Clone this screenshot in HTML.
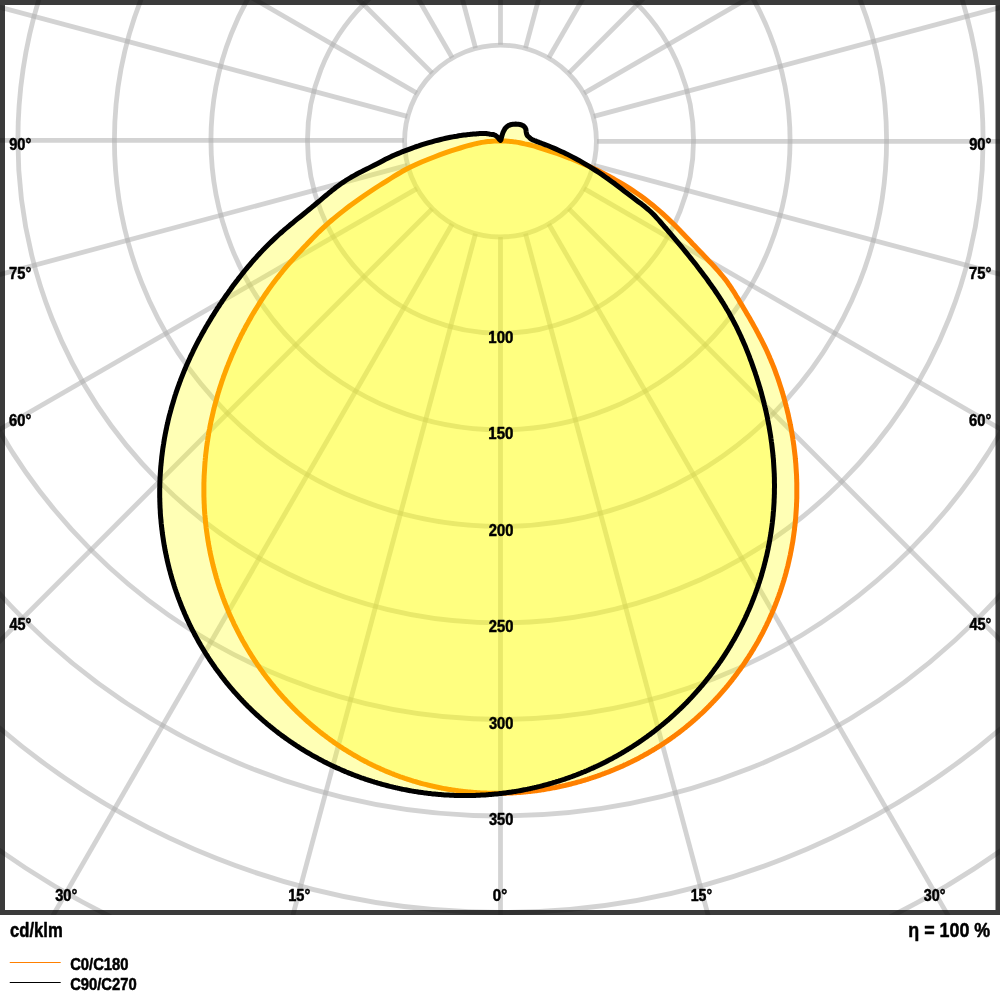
<!DOCTYPE html><html><head><meta charset="utf-8"><style>html,body{margin:0;padding:0;background:#fff}svg{display:block;will-change:transform}text{font-family:"Liberation Sans",Arial,sans-serif;font-weight:bold;fill:#000;stroke:#000;stroke-width:0.5px;stroke-linejoin:round}</style></head><body>
<svg width="1000" height="1000" viewBox="0 0 1000 1000">
<rect width="1000" height="1000" fill="#fff"/>
<defs><clipPath id="c"><rect x="0" y="0" width="1000" height="915"/></clipPath></defs>
<g clip-path="url(#c)">
<circle cx="500.5" cy="141.06" r="95.92" fill="none" stroke="#aeaeae" stroke-opacity="0.55" stroke-width="4.8"/>
<circle cx="500.5" cy="140.36" r="193.04" fill="none" stroke="#aeaeae" stroke-opacity="0.55" stroke-width="4.8"/>
<circle cx="500.5" cy="140.36" r="289.56" fill="none" stroke="#aeaeae" stroke-opacity="0.55" stroke-width="4.8"/>
<circle cx="500.5" cy="140.36" r="386.08" fill="none" stroke="#aeaeae" stroke-opacity="0.55" stroke-width="4.8"/>
<circle cx="500.5" cy="140.36" r="482.60" fill="none" stroke="#aeaeae" stroke-opacity="0.55" stroke-width="4.8"/>
<circle cx="500.5" cy="140.36" r="579.12" fill="none" stroke="#aeaeae" stroke-opacity="0.55" stroke-width="4.8"/>
<circle cx="500.5" cy="140.36" r="675.64" fill="none" stroke="#aeaeae" stroke-opacity="0.55" stroke-width="4.8"/>
<circle cx="500.5" cy="140.36" r="772.16" fill="none" stroke="#aeaeae" stroke-opacity="0.55" stroke-width="4.8"/>
<circle cx="500.5" cy="140.36" r="868.68" fill="none" stroke="#aeaeae" stroke-opacity="0.55" stroke-width="4.8"/>
<line x1="500.50" y1="44.84" x2="500.50" y2="-1358.64" fill="none" stroke="#aeaeae" stroke-opacity="0.55" stroke-width="4.8"/>
<line x1="475.52" y1="48.13" x2="112.27" y2="-1307.53" fill="none" stroke="#aeaeae" stroke-opacity="0.55" stroke-width="4.8"/>
<line x1="452.24" y1="57.77" x2="-249.50" y2="-1157.68" fill="none" stroke="#aeaeae" stroke-opacity="0.55" stroke-width="4.8"/>
<line x1="432.25" y1="73.11" x2="-560.16" y2="-919.30" fill="none" stroke="#aeaeae" stroke-opacity="0.55" stroke-width="4.8"/>
<line x1="416.91" y1="93.10" x2="-798.54" y2="-608.64" fill="none" stroke="#aeaeae" stroke-opacity="0.55" stroke-width="4.8"/>
<line x1="407.27" y1="116.38" x2="-948.39" y2="-246.87" fill="none" stroke="#aeaeae" stroke-opacity="0.55" stroke-width="4.8"/>
<line x1="403.98" y1="140.36" x2="-999.50" y2="140.36" fill="none" stroke="#aeaeae" stroke-opacity="0.55" stroke-width="4.8"/>
<line x1="407.27" y1="165.34" x2="-948.39" y2="528.59" fill="none" stroke="#aeaeae" stroke-opacity="0.55" stroke-width="4.8"/>
<line x1="416.91" y1="188.62" x2="-798.54" y2="890.36" fill="none" stroke="#aeaeae" stroke-opacity="0.55" stroke-width="4.8"/>
<line x1="432.25" y1="208.61" x2="-560.16" y2="1201.02" fill="none" stroke="#aeaeae" stroke-opacity="0.55" stroke-width="4.8"/>
<line x1="452.24" y1="223.95" x2="-249.50" y2="1439.40" fill="none" stroke="#aeaeae" stroke-opacity="0.55" stroke-width="4.8"/>
<line x1="475.52" y1="233.59" x2="112.27" y2="1589.25" fill="none" stroke="#aeaeae" stroke-opacity="0.55" stroke-width="4.8"/>
<line x1="500.50" y1="236.88" x2="500.50" y2="1640.36" fill="none" stroke="#aeaeae" stroke-opacity="0.55" stroke-width="4.8"/>
<line x1="525.48" y1="233.59" x2="888.73" y2="1589.25" fill="none" stroke="#aeaeae" stroke-opacity="0.55" stroke-width="4.8"/>
<line x1="548.76" y1="223.95" x2="1250.50" y2="1439.40" fill="none" stroke="#aeaeae" stroke-opacity="0.55" stroke-width="4.8"/>
<line x1="568.75" y1="208.61" x2="1561.16" y2="1201.02" fill="none" stroke="#aeaeae" stroke-opacity="0.55" stroke-width="4.8"/>
<line x1="584.09" y1="188.62" x2="1799.54" y2="890.36" fill="none" stroke="#aeaeae" stroke-opacity="0.55" stroke-width="4.8"/>
<line x1="593.73" y1="165.34" x2="1949.39" y2="528.59" fill="none" stroke="#aeaeae" stroke-opacity="0.55" stroke-width="4.8"/>
<line x1="597.02" y1="141.31" x2="2000.50" y2="141.31" fill="none" stroke="#aeaeae" stroke-opacity="0.55" stroke-width="4.8"/>
<line x1="593.73" y1="116.38" x2="1949.39" y2="-246.87" fill="none" stroke="#aeaeae" stroke-opacity="0.55" stroke-width="4.8"/>
<line x1="584.09" y1="93.10" x2="1799.54" y2="-608.64" fill="none" stroke="#aeaeae" stroke-opacity="0.55" stroke-width="4.8"/>
<line x1="568.75" y1="73.11" x2="1561.16" y2="-919.30" fill="none" stroke="#aeaeae" stroke-opacity="0.55" stroke-width="4.8"/>
<line x1="548.76" y1="57.77" x2="1250.50" y2="-1157.68" fill="none" stroke="#aeaeae" stroke-opacity="0.55" stroke-width="4.8"/>
<line x1="525.48" y1="48.13" x2="888.73" y2="-1307.53" fill="none" stroke="#aeaeae" stroke-opacity="0.55" stroke-width="4.8"/>
<path d="M531.3,145.3 534.6,146.2 538.0,147.3 542.0,148.6 546.7,150.1 552.0,151.8 557.7,153.7 563.6,155.9 570.0,158.3 576.5,161.0 583.3,163.9 590.3,167.0 596.9,170.1 603.1,173.2 608.9,176.3 614.4,179.3 619.4,182.2 624.1,185.0 628.5,187.7 632.6,190.4 636.5,193.0 640.2,195.5 643.6,198.0 646.8,200.5 649.9,202.9 652.8,205.2 655.6,207.6 658.3,209.9 660.9,212.1 663.4,214.4 665.8,216.6 668.2,218.9 670.5,221.1 672.8,223.3 675.1,225.6 677.3,227.8 679.5,230.0 681.6,232.2 683.8,234.5 685.9,236.7 688.1,239.0 690.3,241.3 692.5,243.7 694.8,246.1 697.1,248.5 699.5,251.0 702.0,253.6 704.5,256.2 706.9,258.8 709.4,261.4 711.9,264.0 714.2,266.5 716.5,269.1 718.8,271.6 720.9,274.1 722.9,276.5 724.8,278.8 726.5,281.1 728.1,283.3 729.6,285.5 731.1,287.6 732.4,289.7 733.7,291.7 735.0,293.8 736.2,295.8 737.5,297.8 738.7,299.8 739.9,301.9 741.1,303.9 742.4,306.0 743.6,308.1 744.9,310.2 746.1,312.3 747.3,314.4 748.6,316.5 749.8,318.6 751.0,320.7 752.2,322.8 753.4,324.9 754.6,327.1 755.8,329.2 756.9,331.3 758.0,333.4 759.1,335.5 760.2,337.6 761.3,339.7 762.4,341.8 763.4,343.8 764.4,345.9 765.4,347.9 766.4,350.0 767.3,352.0 768.2,354.0 769.1,356.0 769.9,358.0 770.8,360.0 771.6,362.0 772.4,363.9 773.2,365.9 774.0,367.8 774.7,369.7 775.4,371.7 776.1,373.6 776.8,375.5 777.5,377.4 778.2,379.3 778.8,381.2 779.4,383.0 780.0,384.9 780.6,386.8 781.2,388.6 781.8,390.5 782.3,392.3 782.9,394.2 783.4,396.0 783.9,397.8 784.4,399.6 784.9,401.4 785.4,403.3 785.9,405.1 786.3,406.9 786.8,408.7 787.2,410.4 787.6,412.2 788.1,414.0 788.5,415.8 788.8,417.6 789.2,419.3 789.6,421.1 790.0,422.8 790.3,424.6 790.7,426.3 791.0,428.1 791.3,429.8 791.6,431.5 791.9,433.3 792.2,435.0 792.5,436.7 792.8,438.4 793.0,440.1 793.3,441.8 793.5,443.5 793.8,445.2 794.0,446.9 794.2,448.6 794.4,450.3 794.6,451.9 794.8,453.6 795.0,455.3 795.2,456.9 795.3,458.6 795.5,460.2 795.6,461.9 795.8,463.5 795.9,465.1 796.0,466.8 796.1,468.4 796.2,470.0 796.3,471.6 796.4,473.2 796.5,474.8 796.6,476.4 796.6,478.0 796.7,479.6 796.7,481.2 796.8,482.8 796.8,484.3 796.8,485.9 796.8,487.5 796.8,489.0 796.8,490.6 796.8,492.1 796.8,493.7 796.8,495.2 796.8,496.8 796.8,498.3 796.7,499.8 796.7,501.3 796.6,502.9 796.5,504.4 796.5,505.9 796.4,507.4 796.3,508.9 796.2,510.4 796.1,511.9 796.0,513.3 795.9,514.8 795.8,516.3 795.7,517.8 795.6,519.2 795.4,520.7 795.3,522.2 795.1,523.6 795.0,525.1 794.8,526.5 794.6,527.9 794.5,529.4 794.3,530.8 794.1,532.2 793.9,533.6 793.7,535.1 793.5,536.5 793.3,537.9 793.1,539.3 792.9,540.7 792.7,542.1 792.4,543.5 792.2,544.8 791.9,546.2 791.7,547.6 791.4,549.0 791.2,550.3 790.9,551.7 790.6,553.1 790.4,554.4 790.1,555.8 789.8,557.1 789.5,558.4 789.2,559.8 788.9,561.1 788.6,562.4 788.3,563.8 788.0,565.1 787.7,566.4 787.3,567.7 787.0,569.0 786.7,570.3 786.3,571.6 786.0,572.9 785.6,574.2 785.3,575.5 784.9,576.8 784.5,578.0 784.2,579.3 783.8,580.6 783.4,581.8 783.0,583.1 782.6,584.3 782.2,585.6 781.8,586.8 781.4,588.1 781.0,589.3 780.6,590.5 780.2,591.8 779.8,593.0 779.3,594.2 778.9,595.4 778.5,596.6 778.0,597.8 777.6,599.0 777.1,600.2 776.7,601.4 776.2,602.6 775.8,603.8 775.3,605.0 774.8,606.2 774.4,607.3 773.9,608.5 773.4,609.7 772.9,610.8 772.4,612.0 771.9,613.2 771.4,614.3 770.9,615.4 770.4,616.6 769.9,617.7 769.4,618.8 768.9,620.0 768.4,621.1 767.8,622.2 767.3,623.3 766.8,624.4 766.3,625.5 765.7,626.7 765.2,627.7 764.6,628.8 764.1,629.9 763.5,631.0 763.0,632.1 762.4,633.2 761.8,634.3 761.3,635.3 760.7,636.4 760.1,637.4 759.5,638.5 759.0,639.6 758.4,640.6 757.8,641.7 757.2,642.7 756.6,643.7 756.0,644.8 755.4,645.8 754.8,646.8 754.2,647.8 753.6,648.9 753.0,649.9 752.3,650.9 751.7,651.9 751.1,652.9 750.5,653.9 749.8,654.9 749.2,655.9 748.6,656.9 747.9,657.9 747.3,658.8 746.6,659.8 746.0,660.8 745.3,661.8 744.7,662.7 744.0,663.7 743.4,664.7 742.7,665.6 742.0,666.6 741.3,667.5 740.7,668.5 740.0,669.5 739.3,670.4 738.6,671.3 737.9,672.3 737.2,673.2 736.5,674.2 735.8,675.1 735.1,676.0 734.4,677.0 733.7,677.9 733.0,678.8 732.3,679.7 731.6,680.7 730.8,681.6 730.1,682.5 729.4,683.4 728.6,684.3 727.9,685.2 727.2,686.1 726.4,687.0 725.7,687.9 724.9,688.8 724.2,689.7 723.4,690.6 722.6,691.4 721.9,692.3 721.1,693.2 720.3,694.1 719.6,694.9 718.8,695.8 718.0,696.7 717.2,697.5 716.4,698.4 715.6,699.3 714.8,700.1 714.0,701.0 713.2,701.8 712.4,702.6 711.6,703.5 710.8,704.3 710.0,705.1 709.2,706.0 708.4,706.8 707.6,707.6 706.7,708.4 705.9,709.2 705.1,710.1 704.2,710.9 703.4,711.7 702.6,712.5 701.7,713.3 700.9,714.1 700.0,714.8 699.2,715.6 698.3,716.4 697.5,717.2 696.6,718.0 695.7,718.7 694.9,719.5 694.0,720.3 693.1,721.0 692.3,721.8 691.4,722.5 690.5,723.3 689.6,724.0 688.7,724.8 687.8,725.5 687.0,726.2 686.1,727.0 685.2,727.7 684.3,728.4 683.4,729.1 682.5,729.8 681.5,730.6 680.6,731.3 679.7,732.0 678.8,732.7 677.9,733.4 677.0,734.0 676.0,734.7 675.1,735.4 674.2,736.1 673.2,736.8 672.3,737.4 671.4,738.1 670.4,738.8 669.5,739.4 668.5,740.1 667.6,740.7 666.6,741.4 665.7,742.0 664.7,742.6 663.8,743.3 662.8,743.9 661.9,744.5 660.9,745.2 659.9,745.8 659.0,746.4 658.0,747.0 657.0,747.6 656.0,748.2 655.1,748.8 654.1,749.4 653.1,750.0 652.1,750.6 651.1,751.2 650.1,751.8 649.2,752.3 648.2,752.9 647.2,753.5 646.2,754.0 645.2,754.6 644.2,755.1 643.2,755.7 642.2,756.2 641.2,756.8 640.1,757.3 639.1,757.9 638.1,758.4 637.1,758.9 636.1,759.4 635.1,760.0 634.0,760.5 633.0,761.0 632.0,761.5 631.0,762.0 629.9,762.5 628.9,763.0 627.9,763.5 626.9,764.0 625.8,764.5 624.8,764.9 623.7,765.4 622.7,765.9 621.7,766.4 620.6,766.8 619.6,767.3 618.5,767.7 617.5,768.2 616.4,768.6 615.4,769.1 614.3,769.5 613.3,770.0 612.2,770.4 611.1,770.8 610.1,771.3 609.0,771.7 608.0,772.1 606.9,772.5 605.8,772.9 604.8,773.3 603.7,773.7 602.6,774.1 601.5,774.5 600.5,774.9 599.4,775.3 598.3,775.7 597.2,776.1 596.2,776.4 595.1,776.8 594.0,777.2 592.9,777.5 591.8,777.9 590.8,778.2 589.7,778.6 588.6,778.9 587.5,779.3 586.4,779.6 585.3,780.0 584.2,780.3 583.1,780.6 582.0,780.9 580.9,781.3 579.8,781.6 578.7,781.9 577.6,782.2 576.5,782.5 575.4,782.8 574.3,783.1 573.2,783.4 572.1,783.7 571.0,784.0 569.9,784.2 568.8,784.5 567.7,784.8 566.6,785.0 565.5,785.3 564.4,785.6 563.3,785.8 562.1,786.1 561.0,786.3 559.9,786.5 558.8,786.8 557.7,787.0 556.6,787.2 555.4,787.5 554.3,787.7 553.2,787.9 552.1,788.1 551.0,788.3 549.8,788.5 548.7,788.7 547.6,788.9 546.5,789.1 545.4,789.3 544.2,789.5 543.1,789.7 542.0,789.8 540.8,790.0 539.7,790.2 538.6,790.3 537.5,790.5 536.3,790.7 535.2,790.8 534.1,790.9 532.9,791.1 531.8,791.2 530.7,791.4 529.5,791.5 528.4,791.6 527.3,791.7 526.1,791.8 525.0,792.0 523.9,792.1 522.7,792.2 521.6,792.3 520.5,792.4 519.3,792.4 518.2,792.5 517.1,792.6 515.9,792.7 514.8,792.8 513.6,792.8 512.5,792.9 511.4,792.9 510.2,793.0 509.1,793.0 507.9,793.1 506.8,793.1 505.7,793.2 504.5,793.2 503.4,793.2 502.3,793.3 501.1,793.3 500.0,793.3 498.8,793.3 497.7,793.3 496.6,793.3 495.4,793.3 494.3,793.3 493.1,793.3 492.0,793.3 490.9,793.2 489.7,793.2 488.6,793.2 487.4,793.2 486.3,793.1 485.2,793.1 484.0,793.0 482.9,793.0 481.7,792.9 480.6,792.9 479.5,792.8 478.3,792.7 477.2,792.7 476.1,792.6 474.9,792.5 473.8,792.4 472.6,792.3 471.5,792.2 470.4,792.1 469.2,792.0 468.1,791.9 467.0,791.8 465.8,791.7 464.7,791.6 463.6,791.4 462.4,791.3 461.3,791.2 460.2,791.0 459.0,790.9 457.9,790.7 456.8,790.6 455.7,790.4 454.5,790.2 453.4,790.1 452.3,789.9 451.1,789.7 450.0,789.5 448.9,789.4 447.8,789.2 446.6,789.0 445.5,788.8 444.4,788.6 443.3,788.4 442.2,788.2 441.0,787.9 439.9,787.7 438.8,787.5 437.7,787.3 436.6,787.0 435.4,786.8 434.3,786.5 433.2,786.3 432.1,786.0 431.0,785.8 429.9,785.5 428.8,785.3 427.7,785.0 426.6,784.7 425.4,784.4 424.3,784.1 423.2,783.9 422.1,783.6 421.0,783.3 419.9,783.0 418.8,782.7 417.7,782.3 416.6,782.0 415.5,781.7 414.4,781.4 413.3,781.1 412.3,780.7 411.2,780.4 410.1,780.0 409.0,779.7 407.9,779.3 406.8,779.0 405.7,778.6 404.6,778.3 403.6,777.9 402.5,777.5 401.4,777.1 400.3,776.8 399.2,776.4 398.2,776.0 397.1,775.6 396.0,775.2 394.9,774.8 393.9,774.4 392.8,773.9 391.7,773.5 390.7,773.1 389.6,772.7 388.6,772.2 387.5,771.8 386.4,771.4 385.4,770.9 384.3,770.5 383.3,770.0 382.2,769.5 381.2,769.1 380.1,768.6 379.1,768.1 378.0,767.7 377.0,767.2 376.0,766.7 374.9,766.2 373.9,765.7 372.8,765.2 371.8,764.7 370.8,764.2 369.8,763.7 368.7,763.2 367.7,762.7 366.7,762.1 365.7,761.6 364.6,761.1 363.6,760.5 362.6,760.0 361.6,759.4 360.6,758.9 359.6,758.3 358.6,757.8 357.6,757.2 356.6,756.6 355.6,756.1 354.6,755.5 353.6,754.9 352.6,754.3 351.6,753.7 350.6,753.1 349.6,752.5 348.6,751.9 347.6,751.3 346.7,750.7 345.7,750.1 344.7,749.5 343.7,748.9 342.8,748.3 341.8,747.6 340.8,747.0 339.9,746.4 338.9,745.7 337.9,745.1 337.0,744.4 336.0,743.8 335.1,743.1 334.1,742.5 333.2,741.8 332.2,741.1 331.3,740.4 330.4,739.8 329.4,739.1 328.5,738.4 327.6,737.7 326.6,737.0 325.7,736.3 324.8,735.6 323.9,734.9 322.9,734.2 322.0,733.5 321.1,732.8 320.2,732.1 319.3,731.4 318.4,730.6 317.5,729.9 316.6,729.2 315.7,728.4 314.8,727.7 313.9,727.0 313.0,726.2 312.1,725.5 311.2,724.7 310.4,723.9 309.5,723.2 308.6,722.4 307.7,721.7 306.9,720.9 306.0,720.1 305.1,719.3 304.3,718.5 303.4,717.8 302.6,717.0 301.7,716.2 300.9,715.4 300.0,714.6 299.2,713.8 298.3,713.0 297.5,712.2 296.7,711.4 295.8,710.5 295.0,709.7 294.2,708.9 293.3,708.1 292.5,707.2 291.7,706.4 290.9,705.6 290.1,704.7 289.3,703.9 288.5,703.1 287.7,702.2 286.9,701.4 286.1,700.5 285.3,699.6 284.5,698.8 283.7,697.9 282.9,697.1 282.2,696.2 281.4,695.3 280.6,694.4 279.8,693.6 279.1,692.7 278.3,691.8 277.5,690.9 276.8,690.0 276.0,689.1 275.3,688.2 274.5,687.3 273.8,686.4 273.1,685.5 272.3,684.6 271.6,683.7 270.9,682.8 270.1,681.9 269.4,680.9 268.7,680.0 268.0,679.1 267.3,678.2 266.5,677.2 265.8,676.3 265.1,675.4 264.4,674.4 263.7,673.5 263.0,672.5 262.4,671.6 261.7,670.6 261.0,669.7 260.3,668.7 259.6,667.8 259.0,666.8 258.3,665.8 257.6,664.9 257.0,663.9 256.3,662.9 255.7,661.9 255.0,661.0 254.4,660.0 253.7,659.0 253.1,658.0 252.4,657.0 251.8,656.0 251.2,655.0 250.6,654.0 249.9,653.0 249.3,652.0 248.7,651.0 248.1,650.0 247.5,649.0 246.9,648.0 246.3,646.9 245.7,645.9 245.1,644.9 244.5,643.9 243.9,642.8 243.3,641.8 242.7,640.7 242.1,639.7 241.6,638.6 241.0,637.6 240.4,636.5 239.8,635.4 239.3,634.4 238.7,633.3 238.2,632.2 237.6,631.1 237.1,630.0 236.5,629.0 236.0,627.9 235.4,626.8 234.9,625.7 234.3,624.6 233.8,623.5 233.3,622.3 232.8,621.2 232.3,620.1 231.7,619.0 231.2,617.9 230.7,616.7 230.2,615.6 229.7,614.5 229.2,613.3 228.7,612.2 228.2,611.0 227.8,609.9 227.3,608.7 226.8,607.5 226.3,606.4 225.9,605.2 225.4,604.0 224.9,602.9 224.5,601.7 224.0,600.5 223.6,599.3 223.1,598.1 222.7,596.9 222.3,595.7 221.8,594.5 221.4,593.3 221.0,592.1 220.6,590.9 220.1,589.6 219.7,588.4 219.3,587.2 218.9,585.9 218.5,584.7 218.1,583.5 217.7,582.2 217.4,581.0 217.0,579.7 216.6,578.5 216.2,577.2 215.9,575.9 215.5,574.6 215.2,573.4 214.8,572.1 214.5,570.8 214.1,569.5 213.8,568.2 213.5,566.9 213.1,565.6 212.8,564.3 212.5,563.0 212.2,561.7 211.9,560.4 211.6,559.1 211.3,557.7 211.0,556.4 210.7,555.1 210.4,553.7 210.1,552.4 209.9,551.1 209.6,549.7 209.4,548.4 209.1,547.0 208.8,545.6 208.6,544.3 208.4,542.9 208.1,541.5 207.9,540.1 207.7,538.7 207.5,537.4 207.3,536.0 207.1,534.6 206.9,533.2 206.7,531.8 206.5,530.3 206.3,528.9 206.1,527.5 206.0,526.1 205.8,524.7 205.6,523.2 205.5,521.8 205.4,520.3 205.2,518.9 205.1,517.4 205.0,516.0 204.8,514.5 204.7,513.1 204.6,511.6 204.5,510.1 204.4,508.6 204.3,507.2 204.3,505.7 204.2,504.2 204.1,502.7 204.1,501.2 204.0,499.7 204.0,498.2 203.9,496.7 203.9,495.1 203.9,493.6 203.9,492.1 203.9,490.5 203.9,489.0 203.9,487.5 203.9,485.9 203.9,484.4 203.9,482.8 204.0,481.2 204.0,479.7 204.1,478.1 204.1,476.5 204.2,475.0 204.3,473.4 204.4,471.8 204.5,470.2 204.6,468.6 204.7,467.0 204.8,465.4 204.9,463.8 205.0,462.1 205.2,460.5 205.3,458.9 205.5,457.2 205.6,455.6 205.8,454.0 206.0,452.3 206.2,450.7 206.4,449.0 206.6,447.3 206.8,445.7 207.1,444.0 207.3,442.3 207.6,440.6 207.8,439.0 208.1,437.3 208.4,435.6 208.6,433.9 208.9,432.2 209.2,430.5 209.6,428.7 209.9,427.0 210.2,425.3 210.6,423.6 210.9,421.8 211.3,420.1 211.7,418.3 212.1,416.6 212.5,414.8 212.9,413.1 213.3,411.3 213.7,409.5 214.2,407.7 214.6,406.0 215.1,404.2 215.6,402.4 216.1,400.6 216.6,398.8 217.1,397.0 217.6,395.2 218.1,393.3 218.7,391.5 219.2,389.7 219.8,387.9 220.4,386.0 221.0,384.2 221.6,382.3 222.2,380.5 222.9,378.6 223.5,376.7 224.2,374.9 224.9,373.0 225.6,371.1 226.3,369.2 227.0,367.3 227.8,365.4 228.5,363.5 229.3,361.6 230.1,359.7 230.9,357.8 231.7,355.8 232.5,353.9 233.4,352.0 234.2,350.0 235.1,348.1 236.0,346.1 236.9,344.1 237.8,342.2 238.8,340.2 239.8,338.2 240.7,336.2 241.7,334.2 242.8,332.2 243.8,330.2 244.9,328.2 245.9,326.2 247.0,324.2 248.2,322.2 249.3,320.1 250.5,318.1 251.6,316.0 252.8,314.0 254.1,311.9 255.3,309.8 256.6,307.8 257.9,305.7 259.2,303.6 260.5,301.5 261.9,299.4 263.3,297.3 264.7,295.2 266.2,293.0 267.7,290.9 269.2,288.7 270.7,286.6 272.3,284.4 273.9,282.2 275.6,280.0 277.3,277.8 279.1,275.6 280.9,273.3 282.8,271.0 284.7,268.7 286.6,266.4 288.6,264.1 290.7,261.8 292.8,259.5 294.9,257.1 297.0,254.8 299.1,252.5 301.3,250.2 303.5,247.8 305.7,245.6 307.8,243.3 310.0,241.0 312.1,238.8 314.3,236.6 316.5,234.3 318.7,232.1 321.0,229.9 323.4,227.6 325.9,225.3 328.6,222.9 331.4,220.5 334.3,218.1 337.3,215.6 340.4,213.1 343.6,210.6 346.9,208.1 350.2,205.5 353.7,203.0 357.2,200.5 360.7,198.0 364.3,195.5 368.0,193.0 371.7,190.5 375.5,188.0 379.4,185.5 383.2,183.1 386.9,180.8 390.6,178.5 394.3,176.2 397.9,174.0 401.6,171.8 405.7,169.5 410.6,167.1 416.0,164.6 421.6,162.0 427.8,159.5 434.2,157.0 440.2,154.7 445.8,152.7 450.9,150.9 455.8,149.4 460.3,148.0 464.5,146.7 468.1,145.7 470.8,145.0 473.0,144.4 474.9,143.9 476.7,143.5 478.3,143.1 480.0,142.8 481.9,142.4 484.0,142.1 486.0,141.8 487.9,141.6 489.8,141.4 492.0,141.2 494.7,141.1 497.6,140.9 500.5,140.9 503.1,140.9 505.5,141.0 508.0,141.2 510.7,141.4 513.5,141.8 516.0,142.1 518.0,142.4 519.8,142.8 522.0,143.3 524.8,143.9 528.0,144.5Z" fill="#ffff00" fill-opacity="0.29" stroke="#ff8000" stroke-width="5" stroke-linejoin="round"/>
<path d="M500.5,140.4 500.9,139.8 501.2,138.7 501.5,137.5 501.8,136.4 502.1,135.2 502.5,134.0 502.9,132.8 503.4,131.6 504.0,130.5 504.6,129.4 505.2,128.4 506.0,127.5 506.9,126.7 507.9,125.9 509.0,125.3 510.3,124.8 511.6,124.5 513.0,124.3 514.3,124.2 515.7,124.1 517.0,124.2 518.4,124.3 519.7,124.5 521.0,124.8 522.1,125.2 523.1,125.7 524.0,126.3 524.7,127.1 525.3,128.0 525.8,129.0 526.0,130.1 526.1,131.3 526.3,132.5 526.5,133.6 526.8,134.6 527.3,135.5 528.1,136.4 529.0,137.1 529.8,137.8 530.2,138.2 530.4,138.5 530.8,138.8 531.3,139.1 531.9,139.4 532.6,139.8 533.4,140.1 534.3,140.5 535.4,140.9 536.5,141.4 537.7,141.8 539.1,142.4 540.5,142.9 542.1,143.5 543.8,144.1 545.6,144.8 547.5,145.5 549.4,146.3 551.6,147.2 553.8,148.1 556.1,149.1 558.5,150.2 561.1,151.4 563.7,152.6 566.5,153.9 569.4,155.4 572.3,156.9 575.4,158.5 578.6,160.2 581.9,162.1 585.3,164.1 588.8,166.2 592.3,168.4 595.7,170.5 599.1,172.7 602.4,174.9 605.6,177.2 608.8,179.4 611.9,181.7 615.0,183.9 618.0,186.2 621.0,188.5 624.1,190.9 627.2,193.3 630.5,195.8 634.1,198.5 637.9,201.4 641.6,204.1 645.0,206.8 648.2,209.5 651.0,212.0 653.3,214.2 655.3,216.3 657.1,218.4 659.0,220.4 660.8,222.5 662.6,224.6 664.4,226.7 666.3,228.8 668.1,231.0 670.0,233.2 671.9,235.4 673.8,237.6 675.7,239.8 677.6,242.1 679.5,244.4 681.4,246.7 683.3,249.0 685.2,251.3 687.1,253.6 689.0,256.0 690.9,258.4 692.8,260.8 694.7,263.1 696.6,265.6 698.4,268.0 700.3,270.4 702.1,272.8 703.9,275.2 705.7,277.6 707.5,280.0 709.2,282.5 711.0,284.9 712.6,287.3 714.3,289.6 715.9,292.0 717.5,294.4 719.0,296.7 720.6,299.1 722.0,301.4 723.5,303.7 724.9,306.0 726.2,308.3 727.6,310.5 728.9,312.7 730.1,315.0 731.3,317.2 732.5,319.3 733.6,321.5 734.8,323.7 735.9,325.8 736.9,327.9 737.9,330.0 738.9,332.1 739.9,334.2 740.9,336.3 741.8,338.4 742.7,340.4 743.6,342.5 744.5,344.5 745.4,346.6 746.2,348.6 747.0,350.6 747.8,352.6 748.6,354.6 749.4,356.7 750.1,358.7 750.9,360.7 751.6,362.6 752.3,364.6 753.0,366.6 753.7,368.6 754.4,370.6 755.1,372.5 755.7,374.5 756.4,376.5 757.0,378.4 757.6,380.4 758.2,382.3 758.8,384.3 759.4,386.2 760.0,388.1 760.5,390.1 761.1,392.0 761.6,393.9 762.1,395.8 762.6,397.7 763.1,399.6 763.6,401.5 764.1,403.4 764.5,405.3 765.0,407.2 765.4,409.0 765.9,410.9 766.3,412.8 766.7,414.6 767.1,416.5 767.5,418.3 767.8,420.2 768.2,422.0 768.5,423.8 768.9,425.7 769.2,427.5 769.5,429.3 769.8,431.1 770.1,432.9 770.4,434.7 770.7,436.5 770.9,438.3 771.2,440.1 771.4,441.8 771.7,443.6 771.9,445.4 772.1,447.1 772.3,448.9 772.5,450.6 772.7,452.4 772.9,454.1 773.0,455.8 773.2,457.5 773.4,459.3 773.5,461.0 773.6,462.7 773.7,464.4 773.8,466.0 773.9,467.7 774.0,469.4 774.1,471.1 774.2,472.8 774.3,474.4 774.3,476.1 774.4,477.7 774.4,479.4 774.4,481.0 774.4,482.6 774.5,484.2 774.5,485.9 774.5,487.5 774.4,489.1 774.4,490.7 774.4,492.3 774.4,493.9 774.3,495.5 774.3,497.0 774.2,498.6 774.1,500.2 774.1,501.7 774.0,503.3 773.9,504.9 773.8,506.4 773.7,507.9 773.6,509.5 773.5,511.0 773.3,512.5 773.2,514.0 773.1,515.6 772.9,517.1 772.8,518.6 772.6,520.1 772.4,521.6 772.3,523.0 772.1,524.5 771.9,526.0 771.7,527.5 771.5,528.9 771.3,530.4 771.1,531.9 770.9,533.3 770.6,534.8 770.4,536.2 770.2,537.6 769.9,539.1 769.7,540.5 769.4,541.9 769.2,543.3 768.9,544.7 768.6,546.2 768.3,547.6 768.1,548.9 767.8,550.3 767.5,551.7 767.2,553.1 766.9,554.5 766.6,555.9 766.2,557.2 765.9,558.6 765.6,559.9 765.3,561.3 764.9,562.6 764.6,564.0 764.2,565.3 763.9,566.7 763.5,568.0 763.2,569.3 762.8,570.6 762.4,572.0 762.0,573.3 761.7,574.6 761.3,575.9 760.9,577.2 760.5,578.5 760.1,579.8 759.7,581.0 759.3,582.3 758.8,583.6 758.4,584.9 758.0,586.1 757.6,587.4 757.1,588.6 756.7,589.9 756.2,591.1 755.8,592.4 755.3,593.6 754.9,594.9 754.4,596.1 754.0,597.3 753.5,598.5 753.0,599.8 752.5,601.0 752.0,602.2 751.6,603.4 751.1,604.6 750.6,605.8 750.1,607.0 749.6,608.1 749.1,609.3 748.6,610.5 748.0,611.7 747.5,612.8 747.0,614.0 746.5,615.2 745.9,616.3 745.4,617.5 744.9,618.6 744.3,619.8 743.8,620.9 743.2,622.0 742.7,623.2 742.1,624.3 741.6,625.4 741.0,626.5 740.4,627.7 739.9,628.8 739.3,629.9 738.7,631.0 738.1,632.1 737.5,633.2 736.9,634.3 736.4,635.3 735.8,636.4 735.2,637.5 734.6,638.6 734.0,639.6 733.3,640.7 732.7,641.8 732.1,642.8 731.5,643.9 730.9,644.9 730.3,646.0 729.6,647.0 729.0,648.0 728.4,649.1 727.7,650.1 727.1,651.1 726.4,652.2 725.8,653.2 725.1,654.2 724.5,655.2 723.8,656.2 723.2,657.2 722.5,658.2 721.8,659.2 721.2,660.2 720.5,661.2 719.8,662.1 719.1,663.1 718.5,664.1 717.8,665.1 717.1,666.0 716.4,667.0 715.7,667.9 715.0,668.9 714.3,669.8 713.6,670.8 712.9,671.7 712.2,672.7 711.5,673.6 710.8,674.5 710.1,675.5 709.4,676.4 708.7,677.3 707.9,678.2 707.2,679.1 706.5,680.0 705.7,681.0 705.0,681.9 704.3,682.8 703.5,683.7 702.8,684.6 702.0,685.5 701.3,686.3 700.5,687.2 699.8,688.1 699.0,689.0 698.2,689.9 697.5,690.8 696.7,691.6 695.9,692.5 695.1,693.4 694.4,694.2 693.6,695.1 692.8,695.9 692.0,696.8 691.2,697.7 690.4,698.5 689.6,699.3 688.8,700.2 688.0,701.0 687.2,701.9 686.4,702.7 685.6,703.5 684.7,704.3 683.9,705.2 683.1,706.0 682.3,706.8 681.4,707.6 680.6,708.4 679.8,709.2 678.9,710.0 678.1,710.8 677.2,711.6 676.4,712.4 675.5,713.2 674.7,714.0 673.8,714.8 673.0,715.6 672.1,716.3 671.2,717.1 670.4,717.9 669.5,718.7 668.6,719.4 667.8,720.2 666.9,720.9 666.0,721.7 665.1,722.4 664.2,723.2 663.3,723.9 662.4,724.7 661.5,725.4 660.6,726.1 659.7,726.9 658.8,727.6 657.9,728.3 657.0,729.0 656.1,729.7 655.2,730.5 654.3,731.2 653.4,731.9 652.4,732.6 651.5,733.3 650.6,734.0 649.7,734.7 648.7,735.3 647.8,736.0 646.9,736.7 645.9,737.4 645.0,738.0 644.0,738.7 643.1,739.4 642.2,740.0 641.2,740.7 640.3,741.4 639.3,742.0 638.3,742.7 637.4,743.3 636.4,743.9 635.5,744.6 634.5,745.2 633.5,745.8 632.5,746.5 631.6,747.1 630.6,747.7 629.6,748.3 628.6,748.9 627.7,749.5 626.7,750.1 625.7,750.7 624.7,751.3 623.7,751.9 622.7,752.5 621.7,753.1 620.7,753.7 619.7,754.2 618.7,754.8 617.7,755.4 616.7,756.0 615.7,756.5 614.7,757.1 613.7,757.6 612.7,758.2 611.7,758.7 610.6,759.3 609.6,759.8 608.6,760.3 607.6,760.9 606.5,761.4 605.5,761.9 604.5,762.4 603.5,763.0 602.4,763.5 601.4,764.0 600.4,764.5 599.3,765.0 598.3,765.5 597.2,766.0 596.2,766.5 595.2,766.9 594.1,767.4 593.1,767.9 592.0,768.4 591.0,768.8 589.9,769.3 588.9,769.8 587.8,770.2 586.7,770.7 585.7,771.1 584.6,771.6 583.6,772.0 582.5,772.4 581.4,772.9 580.4,773.3 579.3,773.7 578.2,774.2 577.1,774.6 576.1,775.0 575.0,775.4 573.9,775.8 572.8,776.2 571.8,776.6 570.7,777.0 569.6,777.4 568.5,777.8 567.4,778.2 566.3,778.5 565.3,778.9 564.2,779.3 563.1,779.6 562.0,780.0 560.9,780.4 559.8,780.7 558.7,781.1 557.6,781.4 556.5,781.7 555.4,782.1 554.3,782.4 553.2,782.7 552.1,783.1 551.0,783.4 549.9,783.7 548.8,784.0 547.7,784.3 546.6,784.6 545.5,784.9 544.4,785.2 543.2,785.5 542.1,785.8 541.0,786.1 539.9,786.4 538.8,786.6 537.7,786.9 536.6,787.2 535.4,787.4 534.3,787.7 533.2,787.9 532.1,788.2 531.0,788.4 529.8,788.7 528.7,788.9 527.6,789.2 526.5,789.4 525.3,789.6 524.2,789.8 523.1,790.0 522.0,790.3 520.8,790.5 519.7,790.7 518.6,790.9 517.4,791.1 516.3,791.3 515.2,791.4 514.0,791.6 512.9,791.8 511.8,792.0 510.6,792.2 509.5,792.3 508.4,792.5 507.2,792.6 506.1,792.8 504.9,792.9 503.8,793.1 502.7,793.2 501.5,793.4 500.4,793.5 499.3,793.6 498.1,793.8 497.0,793.9 495.8,794.0 494.7,794.1 493.5,794.2 492.4,794.3 491.3,794.4 490.1,794.5 489.0,794.6 487.8,794.7 486.7,794.8 485.5,794.9 484.4,794.9 483.2,795.0 482.1,795.1 481.0,795.1 479.8,795.2 478.7,795.2 477.5,795.3 476.4,795.3 475.2,795.4 474.1,795.4 472.9,795.4 471.8,795.5 470.6,795.5 469.5,795.5 468.3,795.5 467.2,795.5 466.1,795.5 464.9,795.5 463.8,795.5 462.6,795.5 461.5,795.5 460.3,795.5 459.2,795.5 458.0,795.5 456.9,795.4 455.7,795.4 454.6,795.4 453.4,795.3 452.3,795.3 451.1,795.2 450.0,795.2 448.9,795.1 447.7,795.1 446.6,795.0 445.4,794.9 444.3,794.9 443.1,794.8 442.0,794.7 440.8,794.6 439.7,794.5 438.6,794.4 437.4,794.3 436.3,794.2 435.1,794.1 434.0,794.0 432.9,793.9 431.7,793.8 430.6,793.6 429.4,793.5 428.3,793.4 427.2,793.2 426.0,793.1 424.9,792.9 423.7,792.8 422.6,792.6 421.5,792.5 420.3,792.3 419.2,792.2 418.1,792.0 416.9,791.8 415.8,791.6 414.7,791.4 413.5,791.3 412.4,791.1 411.3,790.9 410.2,790.7 409.0,790.5 407.9,790.3 406.8,790.0 405.6,789.8 404.5,789.6 403.4,789.4 402.3,789.2 401.1,788.9 400.0,788.7 398.9,788.4 397.8,788.2 396.7,787.9 395.5,787.7 394.4,787.4 393.3,787.2 392.2,786.9 391.1,786.6 390.0,786.4 388.9,786.1 387.7,785.8 386.6,785.5 385.5,785.2 384.4,784.9 383.3,784.6 382.2,784.3 381.1,784.0 380.0,783.7 378.9,783.4 377.8,783.1 376.7,782.7 375.6,782.4 374.5,782.1 373.4,781.7 372.3,781.4 371.2,781.0 370.1,780.7 369.0,780.3 367.9,780.0 366.8,779.6 365.8,779.3 364.7,778.9 363.6,778.5 362.5,778.1 361.4,777.8 360.3,777.4 359.3,777.0 358.2,776.6 357.1,776.2 356.0,775.8 354.9,775.4 353.9,775.0 352.8,774.6 351.7,774.1 350.7,773.7 349.6,773.3 348.5,772.9 347.5,772.4 346.4,772.0 345.4,771.6 344.3,771.1 343.2,770.7 342.2,770.2 341.1,769.7 340.1,769.3 339.0,768.8 338.0,768.3 336.9,767.9 335.9,767.4 334.8,766.9 333.8,766.4 332.8,765.9 331.7,765.5 330.7,765.0 329.7,764.5 328.6,763.9 327.6,763.4 326.6,762.9 325.5,762.4 324.5,761.9 323.5,761.4 322.5,760.8 321.4,760.3 320.4,759.8 319.4,759.2 318.4,758.7 317.4,758.1 316.4,757.6 315.4,757.0 314.4,756.5 313.4,755.9 312.4,755.4 311.4,754.8 310.4,754.2 309.4,753.6 308.4,753.0 307.4,752.5 306.4,751.9 305.4,751.3 304.4,750.7 303.5,750.1 302.5,749.5 301.5,748.9 300.5,748.3 299.5,747.6 298.6,747.0 297.6,746.4 296.6,745.8 295.7,745.1 294.7,744.5 293.8,743.9 292.8,743.2 291.8,742.6 290.9,741.9 289.9,741.3 289.0,740.6 288.1,740.0 287.1,739.3 286.2,738.6 285.2,738.0 284.3,737.3 283.4,736.6 282.4,735.9 281.5,735.3 280.6,734.6 279.7,733.9 278.7,733.2 277.8,732.5 276.9,731.8 276.0,731.1 275.1,730.4 274.2,729.7 273.3,728.9 272.4,728.2 271.5,727.5 270.6,726.8 269.7,726.0 268.8,725.3 267.9,724.6 267.0,723.8 266.1,723.1 265.3,722.3 264.4,721.6 263.5,720.8 262.6,720.1 261.8,719.3 260.9,718.5 260.0,717.8 259.2,717.0 258.3,716.2 257.5,715.5 256.6,714.7 255.8,713.9 254.9,713.1 254.1,712.3 253.2,711.5 252.4,710.7 251.6,709.9 250.7,709.1 249.9,708.3 249.1,707.5 248.2,706.7 247.4,705.9 246.6,705.0 245.8,704.2 245.0,703.4 244.2,702.6 243.4,701.7 242.6,700.9 241.8,700.0 241.0,699.2 240.2,698.3 239.4,697.5 238.6,696.6 237.8,695.8 237.1,694.9 236.3,694.1 235.5,693.2 234.7,692.3 234.0,691.5 233.2,690.6 232.5,689.7 231.7,688.8 230.9,687.9 230.2,687.1 229.4,686.2 228.7,685.3 228.0,684.4 227.2,683.5 226.5,682.6 225.8,681.7 225.0,680.8 224.3,679.8 223.6,678.9 222.9,678.0 222.2,677.1 221.5,676.2 220.8,675.2 220.1,674.3 219.4,673.4 218.7,672.4 218.0,671.5 217.3,670.6 216.6,669.6 215.9,668.7 215.2,667.7 214.6,666.8 213.9,665.8 213.2,664.9 212.6,663.9 211.9,662.9 211.2,662.0 210.6,661.0 209.9,660.0 209.3,659.1 208.7,658.1 208.0,657.1 207.4,656.1 206.8,655.1 206.1,654.2 205.5,653.2 204.9,652.2 204.3,651.2 203.7,650.2 203.1,649.2 202.5,648.2 201.9,647.2 201.3,646.2 200.7,645.2 200.1,644.1 199.5,643.1 198.9,642.1 198.3,641.1 197.8,640.1 197.2,639.0 196.6,638.0 196.1,637.0 195.5,635.9 194.9,634.9 194.4,633.9 193.9,632.8 193.3,631.8 192.8,630.7 192.2,629.7 191.7,628.6 191.2,627.6 190.7,626.5 190.1,625.5 189.6,624.4 189.1,623.4 188.6,622.3 188.1,621.2 187.6,620.2 187.1,619.1 186.6,618.0 186.1,616.9 185.7,615.8 185.2,614.8 184.7,613.7 184.2,612.6 183.8,611.5 183.3,610.4 182.8,609.3 182.4,608.2 181.9,607.1 181.5,606.0 181.0,604.9 180.6,603.7 180.2,602.6 179.7,601.5 179.3,600.4 178.9,599.2 178.4,598.1 178.0,597.0 177.6,595.8 177.2,594.7 176.8,593.5 176.4,592.4 176.0,591.2 175.6,590.0 175.2,588.9 174.8,587.7 174.4,586.5 174.1,585.4 173.7,584.2 173.3,583.0 173.0,581.8 172.6,580.6 172.2,579.5 171.9,578.3 171.5,577.1 171.2,575.9 170.9,574.7 170.5,573.4 170.2,572.2 169.9,571.0 169.5,569.8 169.2,568.6 168.9,567.3 168.6,566.1 168.3,564.9 168.0,563.6 167.7,562.4 167.4,561.2 167.1,559.9 166.9,558.7 166.6,557.4 166.3,556.1 166.1,554.9 165.8,553.6 165.5,552.3 165.3,551.1 165.0,549.8 164.8,548.5 164.6,547.2 164.3,545.9 164.1,544.7 163.9,543.4 163.7,542.1 163.5,540.8 163.3,539.5 163.1,538.1 162.9,536.8 162.7,535.5 162.5,534.2 162.3,532.9 162.2,531.5 162.0,530.2 161.8,528.9 161.7,527.5 161.5,526.2 161.4,524.9 161.2,523.5 161.1,522.1 161.0,520.8 160.9,519.4 160.7,518.1 160.6,516.7 160.5,515.3 160.4,514.0 160.3,512.6 160.3,511.2 160.2,509.8 160.1,508.4 160.0,507.0 160.0,505.6 159.9,504.2 159.9,502.8 159.8,501.4 159.8,500.0 159.8,498.6 159.7,497.2 159.7,495.7 159.7,494.3 159.7,492.9 159.7,491.4 159.7,490.0 159.7,488.6 159.8,487.1 159.8,485.7 159.8,484.2 159.9,482.7 159.9,481.3 160.0,479.8 160.0,478.3 160.1,476.9 160.2,475.4 160.3,473.9 160.4,472.4 160.5,470.9 160.6,469.4 160.7,467.9 160.8,466.4 161.0,464.9 161.1,463.4 161.3,461.9 161.4,460.4 161.6,458.9 161.7,457.3 161.9,455.8 162.1,454.3 162.3,452.7 162.5,451.2 162.7,449.6 162.9,448.1 163.2,446.5 163.4,445.0 163.7,443.4 163.9,441.8 164.2,440.3 164.4,438.7 164.7,437.1 165.0,435.5 165.3,433.9 165.6,432.4 165.9,430.8 166.3,429.2 166.6,427.6 166.9,425.9 167.3,424.3 167.7,422.7 168.0,421.1 168.4,419.5 168.8,417.8 169.2,416.2 169.6,414.6 170.1,412.9 170.5,411.3 171.0,409.6 171.4,408.0 171.9,406.3 172.4,404.6 172.9,403.0 173.4,401.3 173.9,399.6 174.4,397.9 174.9,396.2 175.5,394.5 176.0,392.8 176.6,391.1 177.2,389.4 177.8,387.7 178.4,386.0 179.0,384.3 179.6,382.6 180.3,380.8 180.9,379.1 181.6,377.4 182.3,375.6 183.0,373.9 183.7,372.1 184.4,370.3 185.2,368.6 185.9,366.8 186.7,365.0 187.5,363.3 188.3,361.5 189.1,359.7 189.9,357.9 190.7,356.1 191.6,354.3 192.5,352.5 193.3,350.7 194.2,348.9 195.1,347.1 196.1,345.2 197.0,343.4 197.9,341.6 198.9,339.8 199.9,337.9 200.9,336.1 201.9,334.2 202.9,332.4 204.0,330.6 205.0,328.7 206.1,326.8 207.2,325.0 208.3,323.1 209.4,321.3 210.5,319.4 211.6,317.5 212.8,315.7 214.0,313.8 215.1,311.9 216.3,310.1 217.5,308.2 218.8,306.3 220.0,304.4 221.3,302.6 222.5,300.7 223.8,298.8 225.1,296.9 226.4,295.0 227.8,293.2 229.1,291.3 230.5,289.4 231.8,287.5 233.2,285.6 234.6,283.7 236.0,281.9 237.5,280.0 238.9,278.1 240.4,276.2 241.9,274.3 243.4,272.4 244.9,270.5 246.5,268.6 248.1,266.7 249.7,264.8 251.3,262.9 252.9,261.0 254.6,259.1 256.4,257.2 258.1,255.2 259.9,253.3 261.7,251.4 263.5,249.4 265.4,247.5 267.4,245.5 269.4,243.5 271.4,241.6 273.5,239.6 275.6,237.6 277.9,235.5 280.1,233.5 282.5,231.5 284.8,229.4 287.3,227.4 289.7,225.3 292.2,223.3 294.7,221.2 297.1,219.2 299.6,217.2 302.1,215.2 304.5,213.3 306.8,211.4 309.1,209.5 311.4,207.6 313.6,205.8 315.7,204.0 317.8,202.3 319.9,200.6 321.9,198.9 323.9,197.2 325.9,195.5 327.9,193.9 329.9,192.2 331.9,190.6 334.0,189.0 336.1,187.3 338.3,185.7 340.6,184.0 343.0,182.4 345.5,180.7 348.2,179.0 351.0,177.3 354.1,175.6 357.3,173.8 360.7,172.1 364.1,170.3 367.6,168.6 370.9,166.9 374.1,165.3 377.2,163.7 380.1,162.2 382.9,160.7 385.5,159.3 388.3,157.9 391.4,156.4 394.6,155.0 397.9,153.6 401.3,152.2 404.7,150.9 408.2,149.6 411.6,148.3 415.1,147.0 418.6,145.9 422.1,144.7 425.5,143.7 428.8,142.7 431.9,141.8 434.9,140.9 437.8,140.2 440.6,139.5 443.2,138.9 445.7,138.3 448.2,137.8 450.5,137.3 452.7,136.9 454.8,136.5 456.8,136.2 458.7,135.8 460.5,135.6 462.2,135.3 463.9,135.1 465.4,134.9 466.9,134.7 468.3,134.6 469.6,134.4 470.8,134.3 472.0,134.2 473.1,134.1 474.1,134.0 475.1,133.9 476.0,133.9 476.9,133.8 477.7,133.8 478.5,133.7 479.3,133.6 479.9,133.6 480.1,133.6 480.2,133.6 480.8,133.6 482.2,133.5 484.2,133.5 486.0,133.5 487.4,133.7 488.7,133.9 490.0,134.2 491.4,134.4 492.8,134.5 494.0,134.8 495.0,135.2 495.8,135.7 496.5,136.2 497.2,136.8 497.9,137.5 498.5,138.2 499.2,139.1 499.9,140.0Z" fill="#ffff00" fill-opacity="0.29" stroke="#000" stroke-width="5" stroke-linejoin="round"/>
<text transform="translate(488.30,342.8) scale(0.9159,1)" font-size="16.4">100</text>
<text transform="translate(488.30,439.32) scale(0.9159,1)" font-size="16.4">150</text>
<text transform="translate(488.74,535.84) scale(0.8996,1)" font-size="16.4">200</text>
<text transform="translate(488.74,632.36) scale(0.8996,1)" font-size="16.4">250</text>
<text transform="translate(488.91,728.88) scale(0.8931,1)" font-size="16.4">300</text>
<text transform="translate(488.91,825.4) scale(0.8931,1)" font-size="16.4">350</text>
<text transform="translate(9.14,149.6) scale(0.8926,1)" font-size="16.4">90°</text>
<text transform="translate(969.14,149.6) scale(0.8968,1)" font-size="16.4">90°</text>
<text transform="translate(9.02,278.7) scale(0.8978,1)" font-size="16.4">75°</text>
<text transform="translate(969.01,278.7) scale(0.9021,1)" font-size="16.4">75°</text>
<text transform="translate(9.11,426.4) scale(0.8938,1)" font-size="16.4">60°</text>
<text transform="translate(969.11,426.4) scale(0.8981,1)" font-size="16.4">60°</text>
<text transform="translate(9.43,629.6) scale(0.8806,1)" font-size="16.4">45°</text>
<text transform="translate(969.43,629.6) scale(0.8848,1)" font-size="16.4">45°</text>
<text transform="translate(55.22,900.7) scale(0.8896,1)" font-size="16.4">30°</text>
<text transform="translate(288.23,900.7) scale(0.8889,1)" font-size="16.4">15°</text>
<text transform="translate(492.86,900.7) scale(0.9144,1)" font-size="16.4">0°</text>
<text transform="translate(690.76,900.7) scale(0.8629,1)" font-size="16.4">15°</text>
<text transform="translate(923.72,900.7) scale(0.8769,1)" font-size="16.4">30°</text>
</g>
<rect x="2.5" y="2.5" width="995.5" height="910" fill="none" stroke="#000" stroke-opacity="0.77" stroke-width="5"/>
<text transform="translate(10.10,936.7) scale(0.8315,1)" font-size="20">cd/klm</text>
<text transform="translate(908.32,936.6) scale(0.8930,1)" font-size="20">η = 100 %</text>
<line x1="9.75" y1="962.5" x2="60.7" y2="962.5" stroke="#ff8000" stroke-width="1"/>
<line x1="9.75" y1="982.5" x2="60.7" y2="982.5" stroke="#000" stroke-width="1"/>
<text transform="translate(70.14,970.2) scale(0.9487,1)" font-size="15.6">C0/C180</text>
<text transform="translate(70.14,990.2) scale(0.9483,1)" font-size="15.6">C90/C270</text>
</svg></body></html>
